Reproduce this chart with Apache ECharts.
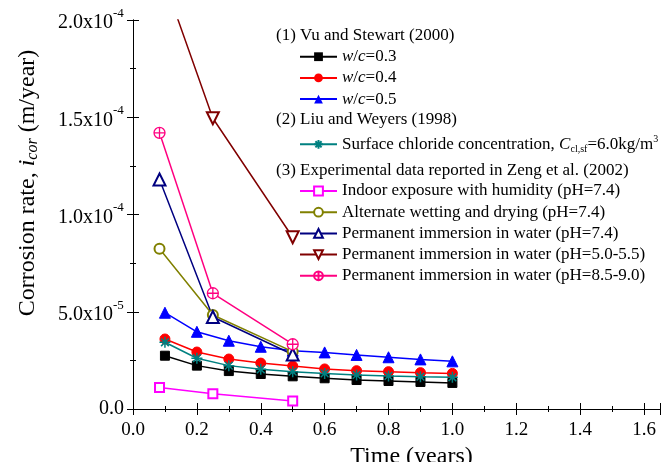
<!DOCTYPE html>
<html>
<head>
<meta charset="utf-8">
<script src="https://cdn.jsdelivr.net/npm/echarts@6/dist/echarts.min.js"></script>
<style>
  html, body { margin: 0; padding: 0; background: #fff; }
  #chart { width: 670px; height: 462px; }
</style>
</head>
<body>
<div id="chart"></div>
<script>
// x values (years)
const xVu = [0.1, 0.2, 0.3, 0.4, 0.5, 0.6, 0.7, 0.8, 0.9, 1.0]
const xZeng = [0.083, 0.25, 0.5]

// (1) Vu and Stewart (2000)
const vuWc03 = [2.74e-5, 2.23e-5, 1.95e-5, 1.80e-5, 1.68e-5, 1.58e-5, 1.49e-5, 1.44e-5, 1.39e-5, 1.34e-5]
const vuWc04 = [3.60e-5, 2.93e-5, 2.57e-5, 2.36e-5, 2.21e-5, 2.06e-5, 1.97e-5, 1.92e-5, 1.87e-5, 1.83e-5]
const vuWc05 = [4.95e-5, 3.97e-5, 3.51e-5, 3.20e-5, 3.00e-5, 2.91e-5, 2.78e-5, 2.66e-5, 2.55e-5, 2.45e-5]
// (2) Liu and Weyers (1998)
const liuSurface = [3.43e-5, 2.61e-5, 2.23e-5, 2.04e-5, 1.92e-5, 1.83e-5, 1.75e-5, 1.70e-5, 1.66e-5, 1.63e-5]
// (3) Zeng et al. (2002)
const zengIndoor = [1.11e-5, 0.79e-5, 0.41e-5]
const zengAlternate = [8.24e-5, 4.83e-5, 2.95e-5]
const zengPerm74 = [11.8e-5, 4.73e-5, 2.80e-5]
const zengPerm50 = [22.7e-5, 14.95e-5, 8.83e-5]
const zengPerm85 = [14.2e-5, 5.95e-5, 3.33e-5]

const yTicks = [0, 5e-5, 1e-4, 1.5e-4, 2e-4]
const yTickLabels = ['0.0', '{b|5.0x10}{sup|-5}{pad| }', '{b|1.0x10}{sup|-4}{pad| }', '{b|1.5x10}{sup|-4}{pad| }', '{b|2.0x10}{sup|-4}{pad| }']

const legendLabels = {
  'wc03': '{it|w}/{it|c}=0.3',
  'wc04': '{it|w}/{it|c}=0.4',
  'wc05': '{it|w}/{it|c}=0.5',
  'liu': 'Surface chloride concentration, {it|C}{sub|cl,sf}=6.0kg/m{sup|3}',
  'indoor': 'Indoor exposure with humidity (pH=7.4)',
  'alternate': 'Alternate wetting and drying (pH=7.4)',
  'perm74': 'Permanent immersion in water (pH=7.4)',
  'perm50': 'Permanent immersion in water (pH=5.0-5.5)',
  'perm85': 'Permanent immersion in water (pH=8.5-9.0)'
}

const FONT = 'Liberation Serif'
const asterisk = 'path://M0,-10L0,10M-10,0L10,0M-7,-7L7,7M-7,7L7,-7'
const circlePlus = 'path://M-10,0A10,10 0 1,1 10,0A10,10 0 1,1 -10,0ZM-10,0L10,0M0,-10L0,10'

const chart = echarts.init(document.getElementById('chart'))

function pairs(xs, ys) {
  return xs.map((x, i) => [x, ys[i]])
}

function mkSeries(name, xs, ys, color, symbol, size, extra) {
  return Object.assign({
    name: name,
    type: 'line',
    data: pairs(xs, ys),
    symbol: symbol,
    symbolSize: size,
    lineStyle: { color: color, width: 1.5 },
    itemStyle: { color: color, borderColor: color },
    clip: true,
    animation: false
  }, extra || {})
}

const legendText = {
  fontFamily: FONT,
  fontSize: 17,
  color: '#000',
  lineHeight: 20,
  rich: {
    it: { fontFamily: FONT, fontSize: 17, fontStyle: 'italic', lineHeight: 20 },
    sub: { fontFamily: FONT, fontSize: 10, lineHeight: 10, verticalAlign: 'bottom' },
    sup: { fontFamily: FONT, fontSize: 10, lineHeight: 10, verticalAlign: 'top' }
  }
}

function mkLegend(names, top) {
  return {
    orient: 'vertical',
    left: 299,
    top: top,
    padding: 0,
    itemWidth: 37,
    itemHeight: 11,
    itemGap: 1.2,
    selectedMode: false,
    data: names,
    formatter: n => legendLabels[n],
    textStyle: legendText
  }
}

const tickStyle = { inside: true, length: 6, lineStyle: { color: '#000' } }
const minorStyle = { show: true, splitNumber: 2, length: 3, lineStyle: { color: '#000' } }

const options = {
  animation: false,
  grid: { left: 133, right: 10, top: 20, bottom: 53, outerBoundsMode: 'none' },
  xAxis: [{
    type: 'value',
    min: 0,
    max: 1.65,
    interval: 0.2,
    name: 'Time (years)',
    nameLocation: 'middle',
    nameGap: 29,
    nameTextStyle: { fontFamily: FONT, fontSize: 24, color: '#000', padding: [0, 0, 0, 30] },
    axisLine: { lineStyle: { color: '#000', width: 1 } },
    axisTick: tickStyle,
    minorTick: minorStyle,
    splitLine: { show: false },
    axisLabel: {
      fontFamily: FONT, fontSize: 19, color: '#000', margin: 12,
      showMaxLabel: false,
      formatter: v => v.toFixed(1)
    }
  }, {
    type: 'value',
    position: 'top',
    min: 0,
    max: 1.65,
    interval: 0.2,
    axisLine: { lineStyle: { color: '#000', width: 1 } },
    axisTick: tickStyle,
    minorTick: minorStyle,
    splitLine: { show: false },
    axisLabel: { show: false }
  }],
  yAxis: [{
    type: 'value',
    min: 0,
    max: 2e-4,
    interval: 5e-5,
    axisLine: { show: true, lineStyle: { color: '#000', width: 1 } },
    axisTick: Object.assign({ show: true }, tickStyle),
    minorTick: minorStyle,
    splitLine: { show: false },
    axisLabel: {
      fontFamily: FONT, fontSize: 20, color: '#000', margin: 9,
      formatter: v => {
        const i = yTicks.findIndex(t => Math.abs(t - v) < 1e-9)
        return i >= 0 ? yTickLabels[i] : ''
      },
      rich: {
        b: { fontFamily: FONT, fontSize: 20, lineHeight: 22, verticalAlign: 'bottom' },
        sup: { fontFamily: FONT, fontSize: 13, lineHeight: 13, verticalAlign: 'top' },
        pad: { fontSize: 1, lineHeight: 26 }
      }
    }
  }, {
    type: 'value',
    position: 'right',
    min: 0,
    max: 2e-4,
    interval: 5e-5,
    axisLine: { show: true, lineStyle: { color: '#000', width: 1 } },
    axisTick: Object.assign({ show: true }, tickStyle),
    minorTick: minorStyle,
    splitLine: { show: false },
    axisLabel: { show: false }
  }],
  legend: [
    mkLegend(['wc03', 'wc04', 'wc05'], 46.7),
    mkLegend(['liu'], 134.3),
    mkLegend(['indoor', 'alternate', 'perm74', 'perm50', 'perm85'], 181)
  ],
  graphic: [
    { type: 'text', x: 276, y: 36, style: { text: '(1) Vu and Stewart (2000)', fontFamily: FONT, fontSize: 17, fill: '#000', verticalAlign: 'middle' } },
    { type: 'text', x: 276, y: 120, style: { text: '(2) Liu and Weyers (1998)', fontFamily: FONT, fontSize: 17, fill: '#000', verticalAlign: 'middle' } },
    { type: 'text', x: 276, y: 170.7, style: { text: '(3) Experimental data reported in Zeng et al. (2002)', fontFamily: FONT, fontSize: 17, fill: '#000', verticalAlign: 'middle' } },
    {
      type: 'text', x: 28, y: 183, rotation: Math.PI / 2,
      style: {
        text: 'Corrosion rate, {it|i}{sub|cor} (m/year)',
        fontFamily: FONT, fontSize: 24, fill: '#000', align: 'center', verticalAlign: 'middle',
        lineHeight: 26,
        rich: {
          it: { fontFamily: FONT, fontSize: 24, fontStyle: 'italic', lineHeight: 26 },
          sub: { fontFamily: FONT, fontSize: 16, fontStyle: 'italic', lineHeight: 14, verticalAlign: 'bottom' }
        }
      }
    }
  ],
  series: [
    mkSeries('wc03', xVu, vuWc03, '#000000', 'rect', 9),
    mkSeries('wc04', xVu, vuWc04, '#ff0000', 'circle', 10),
    mkSeries('wc05', xVu, vuWc05, '#0000ff', 'triangle', 11),
    mkSeries('liu', xVu, liuSurface, '#008080', asterisk, 11, {
      itemStyle: { color: '#008080', borderColor: '#008080', borderWidth: 1.5 }
    }),
    mkSeries('indoor', xZeng, zengIndoor, '#ff00ff', 'emptyRect', 9, {
      itemStyle: { color: '#ff00ff', borderColor: '#ff00ff', borderWidth: 1.5 }
    }),
    mkSeries('alternate', xZeng, zengAlternate, '#808000', 'emptyCircle', 10, {
      itemStyle: { color: '#808000', borderColor: '#808000', borderWidth: 1.5 }
    }),
    mkSeries('perm74', xZeng, zengPerm74, '#000080', 'emptyTriangle', 12, {
      itemStyle: { color: '#000080', borderColor: '#000080', borderWidth: 1.5 }
    }),
    mkSeries('perm50', xZeng, zengPerm50, '#800000', 'emptyTriangle', 12, {
      symbolRotate: 180,
      itemStyle: { color: '#800000', borderColor: '#800000', borderWidth: 1.5 }
    }),
    mkSeries('perm85', xZeng, zengPerm85, '#ff0080', circlePlus, 11, {
      itemStyle: { color: '#ffffff', borderColor: '#ff0080', borderWidth: 1.3 }
    })
  ]
}

chart.setOption(options)
</script>
</body>
</html>
